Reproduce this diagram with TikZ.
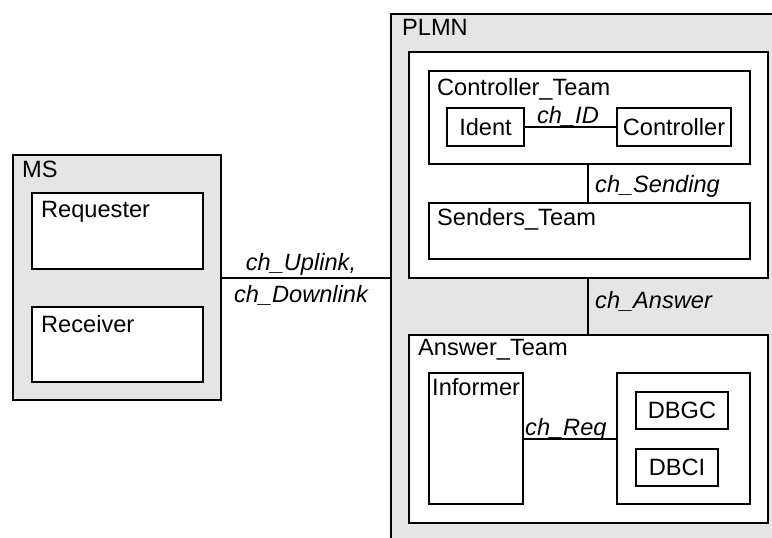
\documentclass[tikz,border=0pt]{standalone}
\usepackage{fontspec}
\setmainfont{Liberation Sans}
\definecolor{panel}{RGB}{229,229,229}
\begin{document}
\begin{tikzpicture}[x=1pt,y=-1pt,
  block/.style={draw, line width=2pt, fill=white, inner sep=0pt, anchor=north west,
                font=\fontsize{23.6}{28}\selectfont},
  grp/.style={block, fill=panel},
  lbl/.style={anchor=base west, inner sep=0pt, font=\fontsize{23.6}{28}\selectfont},
  chan/.style={lbl, font=\fontsize{23.6}{28}\selectfont\itshape},
  wire/.style={line width=2pt}]
\useasboundingbox (0,0) rectangle (772,538);
\clip (0,0) rectangle (772,538);

% MS block and its processes
\node[grp, minimum width=208pt, minimum height=245pt] (ms) at (12,154) {};
\node[lbl] (msl) at (22,177) {MS};
\node[block, minimum width=171pt, minimum height=76pt] (req) at (31,192) {};
\node[lbl] (reql) at (41,217) {Requester};
\node[block, minimum width=171pt, minimum height=75pt] (rcv) at (31,306) {};
\node[lbl] (rcvl) at (41,332) {Receiver};

% PLMN block (runs past the page edge)
\node[grp, minimum width=420pt, minimum height=560pt] (plmn) at (390,13) {};
\node[lbl] (plmnl) at (402,35) {PLMN};

% upper frame with Controller_Team and Senders_Team
\node[block, minimum width=359pt, minimum height=226pt] (upper) at (408,51) {};
\node[block, minimum width=321pt, minimum height=93pt] (ctrlteam) at (428,70) {};
\node[lbl] (ctrlteaml) at (437,95) {Controller\_Team};
\node[block, minimum width=77pt, minimum height=38pt] (ident) at (446,107) {Ident};
\node[block, minimum width=114pt, minimum height=38pt] (ctrl) at (616,107) {Controller};
\node[block, minimum width=321pt, minimum height=56pt] (senders) at (428,202) {};
\node[lbl] (sendersl) at (437,225) {Senders\_Team};

% Answer_Team
\node[block, minimum width=359pt, minimum height=188pt] (answer) at (408,334) {};
\node[lbl] (answerl) at (418,355) {Answer\_Team};
\node[block, minimum width=94pt, minimum height=131pt] (inf) at (428,372) {};
\node[lbl] (infl) at (432,395) {Informer};
\node[block, minimum width=133pt, minimum height=131pt] (db) at (616,372) {};
\node[block, minimum width=92pt, minimum height=37pt] (dbgc) at (635,391) {DBGC};
\node[block, minimum width=82pt, minimum height=37pt] (dbci) at (635,448) {DBCI};

% channels
\coordinate (sx) at (588,0);
\draw[wire] (ms.east) -- (ms.east -| plmn.west);
\draw[wire] (ident.east) -- (ctrl.west);
\draw[wire] (ctrlteam.south -| sx) -- (senders.north -| sx);
\draw[wire] (upper.south -| sx) -- (answer.north -| sx);
\draw[wire] (inf.east) -- (inf.east -| db.west);

% channel names
\node[chan, anchor=base] (ulink) at (301,270) {ch\_Uplink,};
\node[chan, anchor=base] (dlink) at (301,302) {ch\_Downlink};
\node[chan, anchor=base] (chid) at (568,123) {ch\_ID};
\node[chan] (chsend) at (595,192) {ch\_Sending};
\node[chan] (chans) at (595,308) {ch\_Answer};
\node[chan] (chreq) at (525,435) {ch\_Req};
\end{tikzpicture}
\end{document}
